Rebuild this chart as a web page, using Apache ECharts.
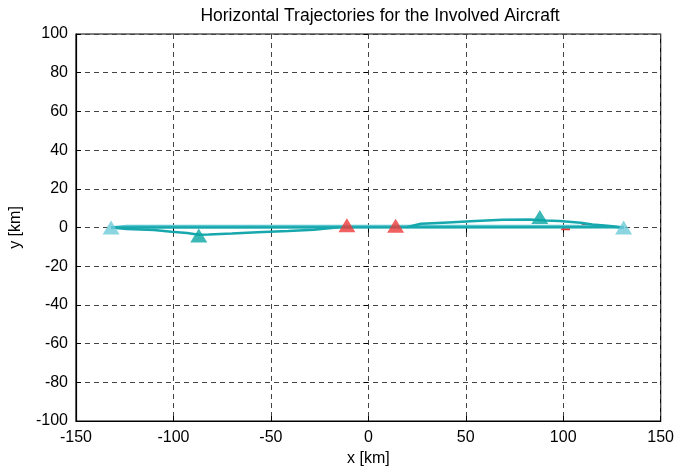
<!DOCTYPE html>
<html>
<head>
<meta charset="utf-8">
<script src="https://cdn.jsdelivr.net/npm/echarts@6/dist/echarts.min.js"></script>
<style>
  html, body { margin: 0; padding: 0; background: #fff; }
  #chart { width: 677px; height: 472px; }
</style>
</head>
<body>
<div id="chart"></div>
<script>
// axis ticks
var xTicks = [-150, -100, -50, 0, 50, 100, 150];
var yTicks = [-100, -80, -60, -40, -20, 0, 20, 40, 60, 80, 100];

// trajectories [x km, y km]
var lightPath = [[-132, 0], [-124, 0.8], [120, 0.8], [131, 0]];
var straightPath = [[-132, 0], [131, 0.1]];
var dipPath = [[-132, 0], [-124, -0.8], [-110, -1.3], [-101, -2.2], [-93, -2.8],
  [-87, -3.7], [-82, -3.6], [-70, -3.1], [-57, -2.4], [-41, -1.8], [-28, -1.2], [-15, 0.1]];
var bumpPath = [[20, 0.3], [27, 1.9], [41, 2.6], [55, 3.3], [69, 4.0], [83, 4.1],
  [91, 3.6], [98, 3.3], [109, 2.5], [115, 1.5], [124, 0.8], [131, 0]];
var redSegA = [[99, -0.9], [103.5, -0.9]];
var redSegB = [[109.5, 1.3], [113, 1.3]];

// aircraft markers
var startPts = [[-132, 0], [131, 0]];
var nowPts = [[-87, -4.1], [88, 5.4]];
var redPts = [[-11, 1.2], [14, 0.9]];

var chart = echarts.init(document.getElementById('chart'));

var font = 'Liberation Sans, Arial, sans-serif';
var teal = '#17a8ae';
var light = '#5cc6d0';

function lineSeries(data, color, width, z) {
  return {
    type: 'line', data: data, showSymbol: false, symbol: 'none',
    lineStyle: { color: color, width: width }, z: z, animation: false
  };
}
function markSeries(data, color, z) {
  return {
    type: 'scatter', data: data, symbol: 'triangle', symbolSize: [17, 14],
    itemStyle: { color: color }, z: z, animation: false
  };
}

var option = {
  animation: false,
  title: {
    text: 'Horizontal Trajectories for the Involved Aircraft',
    left: 375, top: 2, textAlign: 'center',
    textStyle: { fontFamily: font, fontSize: 17.5, fontWeight: 'normal', color: '#000' }
  },
  grid: { left: 74, right: 16, top: 34, bottom: 51, show: true, borderColor: '#000', borderWidth: 1.2 },
  xAxis: [{
    type: 'value', min: -150, max: 150, interval: 50,
    name: 'x [km]', nameLocation: 'middle', nameGap: 29,
    nameTextStyle: { fontFamily: font, fontSize: 16, color: '#000' },
    axisLine: { show: true, onZero: false, lineStyle: { color: '#000', width: 1.2 } },
    axisTick: { show: true, inside: true, length: 5, lineStyle: { color: '#000' } },
    axisLabel: { fontFamily: font, fontSize: 16, color: '#000', margin: 9 },
    splitLine: { show: true, lineStyle: { color: '#444', type: [5, 4], width: 1 } }
  }, {
    type: 'value', min: -150, max: 150, interval: 50, position: 'top',
    axisLine: { show: false }, axisLabel: { show: false }, splitLine: { show: false },
    axisTick: { show: true, inside: true, length: 5, lineStyle: { color: '#000' } }
  }],
  yAxis: [{
    type: 'value', min: -100, max: 100, interval: 20,
    name: 'y [km]', nameLocation: 'middle', nameGap: 52,
    nameTextStyle: { fontFamily: font, fontSize: 16, color: '#000' },
    axisLine: { show: true, onZero: false, lineStyle: { color: '#000', width: 1.2 } },
    axisTick: { show: true, inside: true, length: 5, lineStyle: { color: '#000' } },
    axisLabel: { fontFamily: font, fontSize: 16, color: '#000', margin: 8 },
    splitLine: { show: true, lineStyle: { color: '#444', type: [5, 4], width: 1 } }
  }, {
    type: 'value', min: -100, max: 100, interval: 20, position: 'right',
    axisLine: { show: false }, axisLabel: { show: false }, splitLine: { show: false },
    axisTick: { show: true, inside: true, length: 5, lineStyle: { color: '#000' } }
  }],
  series: [
    lineSeries(redSegA, '#e8383a', 2, 2),
    lineSeries(redSegB, '#e8383a', 2, 2),
    lineSeries(lightPath, light, 2.5, 3),
    lineSeries(straightPath, teal, 2.5, 4),
    lineSeries(dipPath, teal, 2.5, 4),
    lineSeries(bumpPath, teal, 2.5, 4),
    markSeries(redPts, '#ee3a3a', 6),
    markSeries(nowPts, '#0aa6a4', 6),
    markSeries(startPts, '#6ecbd8', 7)
  ]
};
chart.setOption(option);
</script>
</body>
</html>
